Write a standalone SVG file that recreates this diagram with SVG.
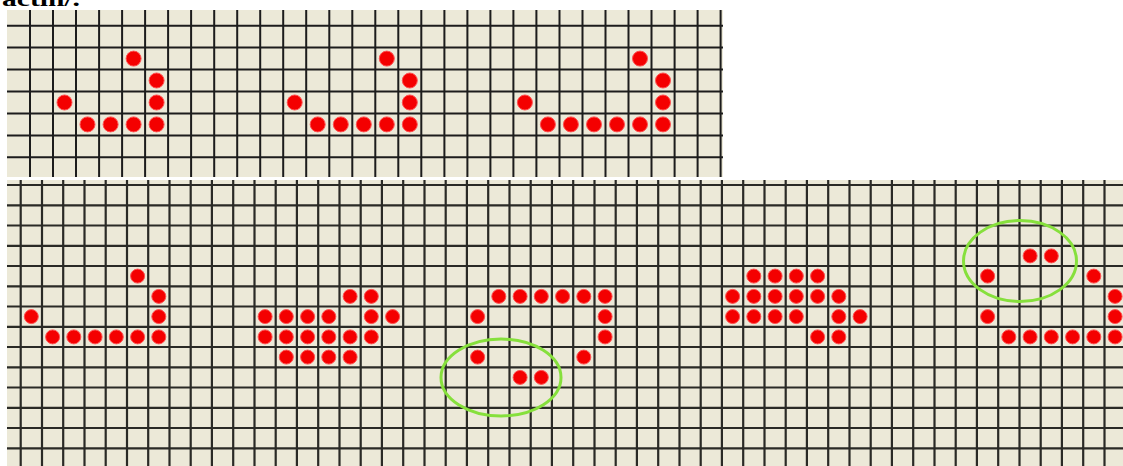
<svg xmlns="http://www.w3.org/2000/svg" width="1123" height="466" viewBox="0 0 1123 466">
<style>
.bg{fill:#ece9d8}
.grid{stroke:#1c1c1c;stroke-width:2;fill:none}
.gridb{stroke:#2a2a26;stroke-width:2.2;fill:none}
.d{fill:#f40000;stroke:#ff5050;stroke-width:1}
.ring{fill:none;stroke:#86e03c;stroke-width:3}
.t{font-family:"Liberation Serif",serif;font-weight:bold;font-size:22px;fill:#000}
</style>
<rect width="1123" height="466" fill="#fff"/>
<text class="t" x="2" y="6" textLength="78" lengthAdjust="spacingAndGlyphs">actin/.</text>
<g id="top-grid">
<rect class="bg" x="7" y="10" width="716" height="167"/>
<path class="grid" d="M30,10V177M53,10V177M76,10V177M99.1,10V177M122.1,10V177M145.1,10V177M168.1,10V177M191.1,10V177M214.2,10V177M237.2,10V177M260.2,10V177M283.2,10V177M306.2,10V177M329.3,10V177M352.3,10V177M375.3,10V177M398.3,10V177M421.3,10V177M444.4,10V177M467.4,10V177M490.4,10V177M513.4,10V177M536.4,10V177M559.5,10V177M582.5,10V177M605.5,10V177M628.5,10V177M651.5,10V177M674.6,10V177M697.6,10V177M720.6,10V177M7,25.7H723M7,47.6H723M7,69.6H723M7,91.5H723M7,113.4H723M7,135.4H723M7,157.3H723"/>
</g>
<g id="top-ship-1">
<circle class="d" cx="133.6" cy="58.6" r="7.5"/><circle class="d" cx="156.6" cy="80.5" r="7.5"/>
<circle class="d" cx="64.5" cy="102.5" r="7.5"/><circle class="d" cx="156.6" cy="102.5" r="7.5"/>
<circle class="d" cx="87.5" cy="124.4" r="7.5"/><circle class="d" cx="110.6" cy="124.4" r="7.5"/><circle class="d" cx="133.6" cy="124.4" r="7.5"/><circle class="d" cx="156.6" cy="124.4" r="7.5"/>
</g>
<g id="top-ship-2">
<circle class="d" cx="386.8" cy="58.6" r="7.5"/><circle class="d" cx="409.8" cy="80.5" r="7.5"/>
<circle class="d" cx="294.7" cy="102.5" r="7.5"/><circle class="d" cx="409.8" cy="102.5" r="7.5"/>
<circle class="d" cx="317.7" cy="124.4" r="7.5"/><circle class="d" cx="340.8" cy="124.4" r="7.5"/><circle class="d" cx="363.8" cy="124.4" r="7.5"/><circle class="d" cx="386.8" cy="124.4" r="7.5"/><circle class="d" cx="409.8" cy="124.4" r="7.5"/>
</g>
<g id="top-ship-3">
<circle class="d" cx="640" cy="58.6" r="7.5"/><circle class="d" cx="663" cy="80.5" r="7.5"/>
<circle class="d" cx="524.9" cy="102.5" r="7.5"/><circle class="d" cx="663" cy="102.5" r="7.5"/>
<circle class="d" cx="547.9" cy="124.4" r="7.5"/><circle class="d" cx="570.9" cy="124.4" r="7.5"/><circle class="d" cx="594" cy="124.4" r="7.5"/><circle class="d" cx="617" cy="124.4" r="7.5"/><circle class="d" cx="640" cy="124.4" r="7.5"/><circle class="d" cx="663" cy="124.4" r="7.5"/>
</g>
<g id="bottom-grid">
<rect class="bg" x="7" y="180" width="1116" height="286"/>
<path class="gridb" d="M20.7,180V466M42,180V466M63.2,180V466M84.5,180V466M105.7,180V466M127,180V466M148.2,180V466M169.5,180V466M190.7,180V466M211.9,180V466M233.2,180V466M254.5,180V466M275.7,180V466M296.9,180V466M318.2,180V466M339.5,180V466M360.7,180V466M381.9,180V466M403.2,180V466M424.5,180V466M445.7,180V466M466.9,180V466M488.2,180V466M509.5,180V466M530.7,180V466M551.9,180V466M573.2,180V466M594.5,180V466M615.7,180V466M636.9,180V466M658.2,180V466M679.5,180V466M700.7,180V466M721.9,180V466M743.2,180V466M764.5,180V466M785.7,180V466M806.9,180V466M828.2,180V466M849.5,180V466M870.7,180V466M891.9,180V466M913.2,180V466M934.5,180V466M955.7,180V466M976.9,180V466M998.2,180V466M1019.5,180V466M1040.7,180V466M1061.9,180V466M1083.2,180V466M1104.5,180V466M7,185H1123M7,205.3H1123M7,225.5H1123M7,245.8H1123M7,266H1123M7,286.3H1123M7,306.5H1123M7,326.8H1123M7,347H1123M7,367.3H1123M7,387.5H1123M7,407.8H1123M7,428H1123M7,448.3H1123"/>
</g>
<g id="ship-a">
<circle class="d" cx="137.6" cy="276.1" r="7"/><circle class="d" cx="158.8" cy="296.4" r="7"/>
<circle class="d" cx="31.3" cy="316.6" r="7"/><circle class="d" cx="158.8" cy="316.6" r="7"/>
<circle class="d" cx="52.6" cy="336.9" r="7"/><circle class="d" cx="73.8" cy="336.9" r="7"/><circle class="d" cx="95.1" cy="336.9" r="7"/><circle class="d" cx="116.3" cy="336.9" r="7"/><circle class="d" cx="137.6" cy="336.9" r="7"/><circle class="d" cx="158.8" cy="336.9" r="7"/>
</g>
<g id="ship-b">
<circle class="d" cx="350.1" cy="296.4" r="7"/><circle class="d" cx="371.3" cy="296.4" r="7"/>
<circle class="d" cx="265.1" cy="316.6" r="7"/><circle class="d" cx="286.3" cy="316.6" r="7"/><circle class="d" cx="307.6" cy="316.6" r="7"/><circle class="d" cx="328.8" cy="316.6" r="7"/><circle class="d" cx="371.3" cy="316.6" r="7"/><circle class="d" cx="392.6" cy="316.6" r="7"/>
<circle class="d" cx="265.1" cy="336.9" r="7"/><circle class="d" cx="286.3" cy="336.9" r="7"/><circle class="d" cx="307.6" cy="336.9" r="7"/><circle class="d" cx="328.8" cy="336.9" r="7"/><circle class="d" cx="350.1" cy="336.9" r="7"/><circle class="d" cx="371.3" cy="336.9" r="7"/>
<circle class="d" cx="286.3" cy="357.1" r="7"/><circle class="d" cx="307.6" cy="357.1" r="7"/><circle class="d" cx="328.8" cy="357.1" r="7"/><circle class="d" cx="350.1" cy="357.1" r="7"/>
</g>
<g id="ship-c">
<circle class="d" cx="498.8" cy="296.4" r="7"/><circle class="d" cx="520.1" cy="296.4" r="7"/><circle class="d" cx="541.3" cy="296.4" r="7"/><circle class="d" cx="562.6" cy="296.4" r="7"/><circle class="d" cx="583.8" cy="296.4" r="7"/><circle class="d" cx="605.1" cy="296.4" r="7"/>
<circle class="d" cx="477.6" cy="316.6" r="7"/><circle class="d" cx="605.1" cy="316.6" r="7"/>
<circle class="d" cx="605.1" cy="336.9" r="7"/>
<circle class="d" cx="477.6" cy="357.1" r="7"/><circle class="d" cx="583.8" cy="357.1" r="7"/>
<circle class="d" cx="520.1" cy="377.4" r="7"/><circle class="d" cx="541.3" cy="377.4" r="7"/>
<ellipse class="ring" cx="501" cy="377.5" rx="60" ry="38.5"/>
</g>
<g id="ship-d">
<circle class="d" cx="753.8" cy="276.1" r="7"/><circle class="d" cx="775.1" cy="276.1" r="7"/><circle class="d" cx="796.3" cy="276.1" r="7"/><circle class="d" cx="817.6" cy="276.1" r="7"/>
<circle class="d" cx="732.6" cy="296.4" r="7"/><circle class="d" cx="753.8" cy="296.4" r="7"/><circle class="d" cx="775.1" cy="296.4" r="7"/><circle class="d" cx="796.3" cy="296.4" r="7"/><circle class="d" cx="817.6" cy="296.4" r="7"/><circle class="d" cx="838.8" cy="296.4" r="7"/>
<circle class="d" cx="732.6" cy="316.6" r="7"/><circle class="d" cx="753.8" cy="316.6" r="7"/><circle class="d" cx="775.1" cy="316.6" r="7"/><circle class="d" cx="796.3" cy="316.6" r="7"/><circle class="d" cx="838.8" cy="316.6" r="7"/><circle class="d" cx="860.1" cy="316.6" r="7"/>
<circle class="d" cx="817.6" cy="336.9" r="7"/><circle class="d" cx="838.8" cy="336.9" r="7"/>
</g>
<g id="ship-e">
<circle class="d" cx="1030.1" cy="255.9" r="7"/><circle class="d" cx="1051.3" cy="255.9" r="7"/>
<circle class="d" cx="987.6" cy="276.1" r="7"/><circle class="d" cx="1093.8" cy="276.1" r="7"/>
<circle class="d" cx="1115.1" cy="296.4" r="7"/>
<circle class="d" cx="987.6" cy="316.6" r="7"/><circle class="d" cx="1115.1" cy="316.6" r="7"/>
<circle class="d" cx="1008.8" cy="336.9" r="7"/><circle class="d" cx="1030.1" cy="336.9" r="7"/><circle class="d" cx="1051.3" cy="336.9" r="7"/><circle class="d" cx="1072.6" cy="336.9" r="7"/><circle class="d" cx="1093.8" cy="336.9" r="7"/><circle class="d" cx="1115.1" cy="336.9" r="7"/>
<ellipse class="ring" cx="1020" cy="261" rx="56.5" ry="40.5"/>
</g>
</svg>
